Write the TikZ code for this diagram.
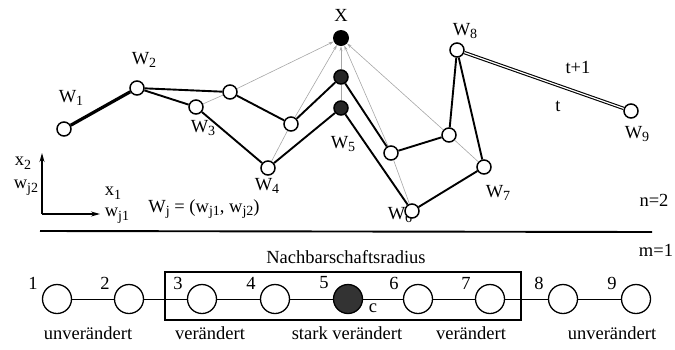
\documentclass[tikz,border=0pt]{standalone}
\usepackage{fontspec}
\setmainfont{Liberation Serif}
\usetikzlibrary{arrows.meta}
\newcommand\lsub[2]{#1\raisebox{-0.45ex}{\fontsize{14}{14}\selectfont #2}}
\begin{document}
\begin{tikzpicture}[x=1pt,y=-1pt,
  every node/.style={font=\rmfamily\fontsize{18.5}{20}\selectfont, inner sep=0pt},
  wn/.style={circle, draw, line width=1.5pt, minimum size=14pt, fill=white},
  wfill/.style={circle, draw, line width=1.5pt, minimum size=14pt, fill=black!85},
  xn/.style={circle, fill=black, minimum size=16pt},
  chain/.style={line width=1.9pt},
  gl/.style={gray!70, line width=0.6pt},
  ga/.style={gray!70, line width=0.6pt, -{Stealth[length=5pt,width=3pt]}},
  bn/.style={circle, draw, line width=1.3pt, minimum size=29pt, fill=white},
  bfill/.style={circle, draw, line width=1.3pt, minimum size=29pt, fill=black!80},
  bl/.style={line width=1pt},
  ax/.style={line width=1.2pt, -{Stealth[length=9pt,width=5pt]}}
]
\useasboundingbox (0,0) rectangle (675,349);
% labels (drawn first so circles overlap)
\node (lx) at (341,15) {X};
\node (l1) at (71,98) {\lsub{W}{1}};
\node (l2) at (144,60) {\lsub{W}{2}};
\node (l3) at (203,128) {\lsub{W}{3}};
\node (l4) at (267,186) {\lsub{W}{4}};
\node (l5) at (343,144) {\lsub{W}{5}};
\node (l6) at (400,215) {\lsub{W}{6}};
\node (l7) at (498,193) {\lsub{W}{7}};
\node (l8) at (465,31) {\lsub{W}{8}};
\node (l9) at (637,134) {\lsub{W}{9}};
\node (lt1) at (578,67) {t+1};
\node (lt) at (558,106) {t};
% nodes of the map
\node[xn] (x) at (341,38) {};
\node[wn] (w1) at (64,129) {};
\node[wn] (w2) at (137,88) {};
\node[wn] (w3) at (196,107) {};
\node[wn] (w3n) at (230,92) {};
\node[wn] (w4) at (268,168) {};
\node[wn] (w4n) at (291,124) {};
\node[wfill] (w5) at (341,108) {};
\node[wfill] (w5n) at (341,77) {};
\node[wn] (w6) at (412,211) {};
\node[wn] (w6n) at (391,153) {};
\node[wn] (w7) at (484,167) {};
\node[wn] (w7n) at (449,135) {};
\node[wn] (w8) at (457,50) {};
\node[wn] (w9) at (631,111) {};
% gray movement lines
\draw[gl] (w3) -- (w3n);
\draw[ga] (w3n) -- (x);
\draw[gl] (w4) -- (w4n);
\draw[ga] (w4n) -- (x);
\draw[gl] (w5) -- (w5n);
\draw[ga] (w5n) -- (x);
\draw[gl] (w6) -- (w6n);
\draw[ga] (w6n) -- (x);
\draw[gl] (w7) -- (w7n);
\draw[ga] (w7n) -- (x);
% chains
\draw[line width=3.2pt] (w1) -- (w2);
\draw[chain] (w2) -- (w3) -- (w4) -- (w5) -- (w6) -- (w7) -- (w8);
\draw[chain] (w2) -- (w3n) -- (w4n) -- (w5n) -- (w6n) -- (w7n) -- (w8);
\draw[double, line width=1.1pt, double distance=1.2pt] (w8) -- (w9);
% axes
\coordinate (o) at (42,214);
\coordinate (ay) at (42,153);
\coordinate (axx) at (100,214);
\draw[ax] (o) -- (ay);
\draw[ax] (o) -- (axx);
\node (x2) at (23,163) {\lsub{x}{2}};
\node (wj2) at (26,188) {\lsub{w}{j2}};
\node (x1) at (113,193) {\lsub{x}{1}};
\node (wj1) at (117,216) {\lsub{w}{j1}};
\node (wj) at (204,209) {\lsub{W}{j} = (\lsub{w}{j1}, \lsub{w}{j2})};
\node (n2) at (654,200) {n=2};
\node (m1) at (656,250) {m=1};
\coordinate (s1) at (40,231);
\coordinate (s2) at (652,232);
\draw[line width=1.9pt] (s1) -- (s2);
% bottom row
\node (rad) at (346,257) {Nachbarschaftsradius};
\coordinate (r1) at (165,272);
\coordinate (r2) at (521,320);
\draw[line width=1.2pt] (r1) rectangle (r2);
\foreach \i/\xx in {1/57,2/129,3/202,4/275,6/418,7/490,8/563,9/636}{
  \node[bn] (b\i) at (\xx,299) {};
  \node (n\i) at (\xx-24,283) {\i};
}
\node[bfill] (b5) at (348,299) {};
\node (n5) at (324,283) {5};
\node (c) at (373,308) {c};
\foreach \a/\b in {1/2,2/3,3/4,4/5,5/6,6/7,7/8,8/9}{
  \draw[bl] (b\a) -- (b\b);
}
\node (u1) at (88,333) {unverändert};
\node (v1) at (210,333) {verändert};
\node (sv) at (347,333) {stark verändert};
\node (v2) at (471,333) {verändert};
\node (u2) at (612,333) {unverändert};
\end{tikzpicture}
\end{document}
